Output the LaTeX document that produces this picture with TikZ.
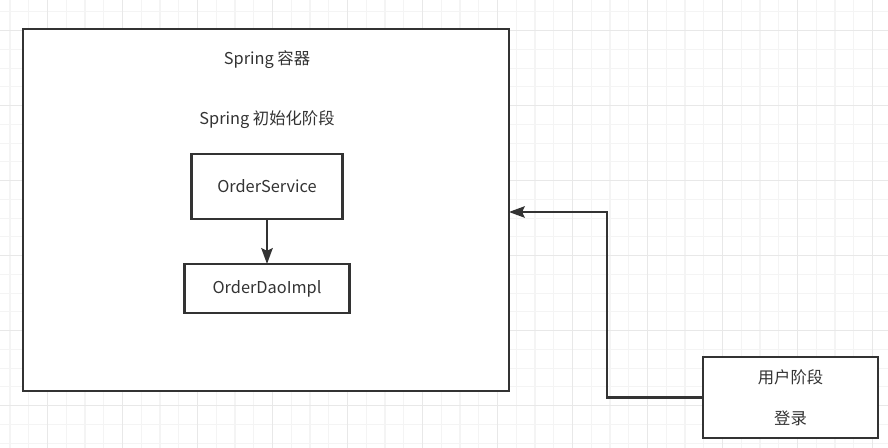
\documentclass[tikz,border=0pt]{standalone}
\usepackage{fontspec}
\setmainfont{Noto Sans CJK SC}
\usetikzlibrary{positioning,arrows.meta}
\definecolor{inkgray}{HTML}{333333}
\definecolor{minorgray}{HTML}{F4F4F4}
\definecolor{majorgray}{HTML}{E8E8E8}
\tikzset{
  >={Stealth[length=9pt,width=6.5pt,inset=1.5pt]},
  minorline/.style={draw=minorgray, line width=0.6pt},
  majorline/.style={draw=majorgray, line width=0.6pt},
  frame/.style={
    rectangle,
    draw=inkgray, line width=1.3pt,
    fill=white,
    outer sep=0pt},
  punkt/.style={
    rectangle,
    draw=inkgray, line width=1.3pt,
    fill=white,
    text=inkgray,
    font=\fontsize{9.3pt}{11pt}\selectfont,
    text centered,
    outer sep=0pt},
  label/.style={text=inkgray, font=\fontsize{9.3pt}{11pt}\selectfont},
  line/.style={draw=inkgray, line width=1.2pt, ->},
}
\begin{document}
\begin{tikzpicture}
[x=0.02cm, y=-0.02cm, node distance=1.2cm]

    \useasboundingbox (0,0) rectangle (888,448);
    \fill[white] (0,0) rectangle (888,448);
    % grid behind everything
    \foreach \i in {0,...,47}
        \draw[minorline] ({10+18.75*\i},0) -- ({10+18.75*\i},448);
    \foreach \j in {0,...,23}
        \draw[minorline] (0,{11.95+18.75*\j}) -- (888,{11.95+18.75*\j});
    \foreach \i in {0,...,11}
        \draw[majorline] ({47.5+75*\i},0) -- ({47.5+75*\i},448);
    \foreach \j in {0,...,5}
        \draw[majorline] (0,{30.7+75*\j}) -- (888,{30.7+75*\j});

    \node [frame, minimum width=9.72cm, minimum height=7.24cm](container) at (266,210) {};
    \node [label](title) at (267,60) {Spring 容器};
    \node [label, below of=title](phase){Spring 初始化阶段};
    \node [punkt, below of=phase, node distance=1.33cm,
           minimum width=3.02cm, minimum height=1.3cm](orderservice){OrderService};
    \node [punkt, below of=orderservice, node distance=2.04cm,
           minimum width=3.3cm, minimum height=0.98cm](orderdao){OrderDaoImpl};

    \node [punkt, minimum width=3.5cm, minimum height=1.62cm, align=center](user) at (790.5,397.5)
        {用户阶段\\[0.44cm]登录};
    \coordinate (bend) at (607,212);

    \draw[line] (orderservice.south) -- (orderdao.north);
    \draw[line] (user.west) -| (bend) -- (bend -| container.east);

\end{tikzpicture}
\end{document}
